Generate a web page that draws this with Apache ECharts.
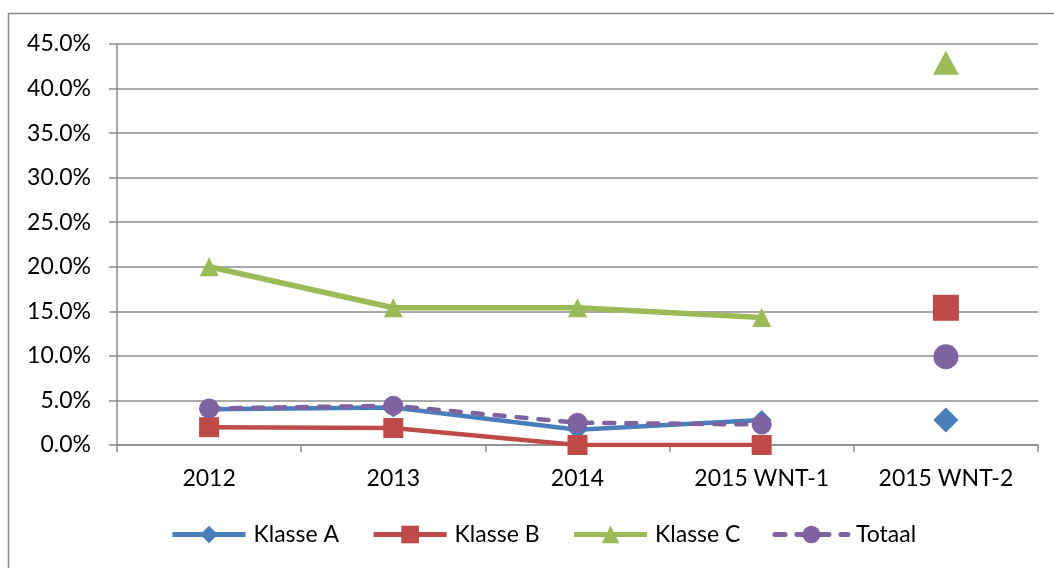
<!DOCTYPE html>
<html>
<head>
<meta charset="utf-8">
<script src="https://cdn.jsdelivr.net/npm/echarts@6/dist/echarts.min.js"></script>
<style>
  html, body { margin: 0; padding: 0; background: #fff; }
  #chart { width: 1054px; height: 568px; }
</style>
</head>
<body>
<div id="chart"></div>
<script>
// Period labels on the category axis
const categories = ['2012', '2013', '2014', '2015 WNT-1', '2015 WNT-2'];

// Percentages per class (the last period is plotted as a stand-alone point)
const klasseA = [4.0, 4.2, 1.7, 2.8, 2.8];
const klasseB = [2.0, 1.9, 0.0, 0.0, 15.4];
const klasseC = [20.0, 15.4, 15.4, 14.3, 42.9];
const totaal  = [4.1, 4.4, 2.5, 2.3, 9.9];

const FONT = 'Lato, "Open Sans", sans-serif';
const FONT_SIZE = 23;
const lastIdx = categories.length - 1;

// Connected part of a series: every period except the last one
function trend(values) {
  return values.map((v, i) => (i < lastIdx ? v : null));
}
// Stand-alone point for the last period
function single(values) {
  return values.map((v, i) => (i === lastIdx ? v : null));
}

const styles = [
  { name: 'Klasse A', values: klasseA, color: '#4A7EBB', symbol: 'diamond', size: 20, bigSize: 25, width: 4.5, dash: 'solid', cap: 'butt' },
  { name: 'Klasse B', values: klasseB, color: '#BE4B48', symbol: 'rect', size: 20, bigSize: 26, width: 4.5, dash: 'solid', cap: 'butt' },
  { name: 'Klasse C', values: klasseC, color: '#9BBB59', symbol: 'triangle', size: [19, 19], bigSize: [26, 24], width: 5.5, dash: 'solid', cap: 'butt' },
  { name: 'Totaal', values: totaal, color: '#7F63A1', symbol: 'circle', size: 20, bigSize: 25, width: 4.5, dash: [10, 12], cap: 'round' }
];

const series = [];
styles.forEach(s => {
  series.push({
    name: s.name,
    type: 'line',
    data: trend(s.values),
    symbol: s.symbol,
    symbolSize: s.size,
    showAllSymbol: true,
    connectNulls: false,
    lineStyle: { color: s.color, width: s.width, type: s.dash, cap: s.cap },
    itemStyle: { color: s.color, opacity: 1 },
    emphasis: { disabled: true },
    animation: false
  });
});
styles.forEach(s => {
  series.push({
    name: s.name,
    type: 'scatter',
    data: single(s.values),
    symbol: s.symbol,
    symbolSize: s.bigSize,
    itemStyle: { color: s.color, opacity: 1 },
    emphasis: { disabled: true },
    animation: false
  });
});

const chart = echarts.init(document.getElementById('chart'), null, { renderer: 'canvas' });
chart.setOption({
  backgroundColor: '#ffffff',
  animation: false,
  graphic: [{
    type: 'rect',
    shape: { x: 8.5, y: 13.5, width: 1200, height: 700 },
    style: { fill: 'none', stroke: '#8c8c8c', lineWidth: 1.5 },
    silent: true,
    z: -10
  }],
  grid: { left: 117, right: 16, top: 44, bottom: 123 },
  legend: {
    data: styles.map(s => s.name),
    top: 518,
    left: 165,
    itemWidth: 73,
    itemHeight: 22,
    itemGap: 32,
    lineStyle: { width: 5 },
    textStyle: { fontFamily: FONT, fontSize: FONT_SIZE, color: '#000', padding: [0, 0, 0, 3] }
  },
  xAxis: {
    type: 'category',
    data: categories,
    boundaryGap: true,
    axisLine: { lineStyle: { color: '#8c8c8c', width: 1.5 } },
    axisTick: { show: true, length: 7, alignWithLabel: false, lineStyle: { color: '#8c8c8c', width: 1.5 } },
    axisLabel: { fontFamily: FONT, fontSize: FONT_SIZE, color: '#000', margin: 22 },
    splitLine: { show: false }
  },
  yAxis: {
    type: 'value',
    min: 0,
    max: 45,
    interval: 5,
    axisLine: { show: true, lineStyle: { color: '#8c8c8c', width: 1.5 } },
    axisTick: { show: true, length: 8, lineStyle: { color: '#8c8c8c', width: 1.5 } },
    axisLabel: {
      fontFamily: FONT, fontSize: FONT_SIZE, color: '#000', margin: 26,
      formatter: v => v.toFixed(1) + '%'
    },
    splitLine: { show: true, lineStyle: { color: '#8c8c8c', width: 1.5 } }
  },
  series: series
});
</script>
</body>
</html>
